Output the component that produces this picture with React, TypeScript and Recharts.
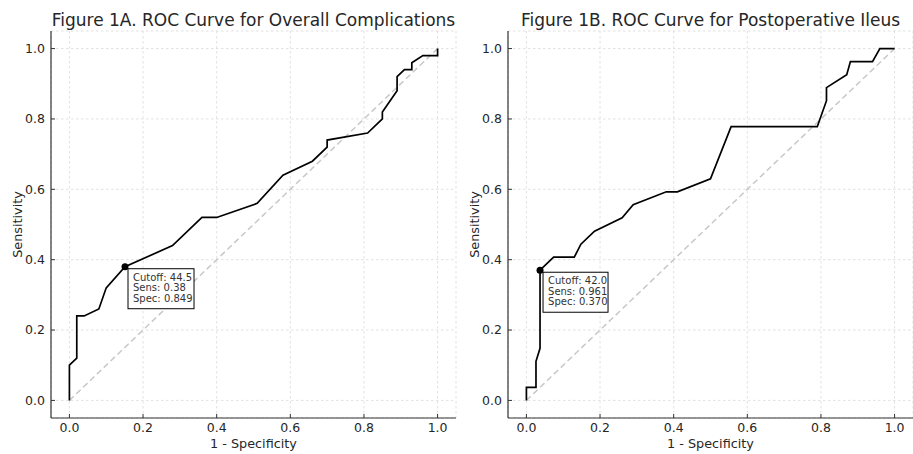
import { LineChart, Line, XAxis, YAxis, CartesianGrid, ReferenceDot } from "recharts";

// ROC points (1 - specificity, sensitivity)
const fprOverall = [0, 0, 0.02, 0.02, 0.04, 0.08, 0.1, 0.151, 0.28, 0.36, 0.4, 0.51, 0.58, 0.66, 0.7, 0.7, 0.81, 0.85, 0.85, 0.89, 0.89, 0.91, 0.93, 0.93, 0.96, 1.0, 1.0];
const tprOverall = [0, 0.1, 0.12, 0.24, 0.24, 0.26, 0.32, 0.38, 0.44, 0.52, 0.52, 0.56, 0.64, 0.68, 0.72, 0.74, 0.76, 0.8, 0.82, 0.88, 0.92, 0.94, 0.94, 0.96, 0.98, 0.98, 1.0];

const fprIleus = [0, 0, 0.026, 0.026, 0.037, 0.037, 0.074, 0.13, 0.148, 0.185, 0.26, 0.29, 0.38, 0.41, 0.5, 0.556, 0.79, 0.815, 0.815, 0.87, 0.88, 0.94, 0.96, 1.0];
const tprIleus = [0, 0.037, 0.037, 0.111, 0.148, 0.37, 0.407, 0.407, 0.444, 0.481, 0.519, 0.556, 0.593, 0.593, 0.63, 0.778, 0.778, 0.852, 0.889, 0.926, 0.963, 0.963, 1.0, 1.0];

const chanceFpr = [0, 1];
const chanceTpr = [0, 1];

const axisTicks = [0, 0.2, 0.4, 0.6, 0.8, 1.0];

const cutoffOverall = { fpr: 0.151, tpr: 0.38, lines: ["Cutoff: 44.5", "Sens: 0.38", "Spec: 0.849"] };
const cutoffIleus = { fpr: 0.037, tpr: 0.37, lines: ["Cutoff: 42.0", "Sens: 0.961", "Spec: 0.370"] };

const titleOverall = "Figure 1A. ROC Curve for Overall Complications";
const titleIleus = "Figure 1B. ROC Curve for Postoperative Ileus";

type Cutoff = { fpr: number; tpr: number; lines: string[] };

const CutoffMarker = (props: any) => {
  const { cx, cy, lines, boxWidth } = props;
  return (
    <g>
      <rect x={cx + 3} y={cy + 2} width={boxWidth} height={40} fill="#fff" stroke="#000" strokeWidth={1} />
      {lines.map((t: string, i: number) => (
        <text
          key={i}
          x={cx + 8}
          y={cy + 14 + i * 10.5}
          fill="#333"
          style={{ fontSize: "10px", fontFamily: "'DejaVu Sans', sans-serif" }}
        >
          {t}
        </text>
      ))}
      <circle cx={cx} cy={cy} r={3.5} fill="#000" />
    </g>
  );
};

type PanelProps = {
  title: string;
  fpr: number[];
  tpr: number[];
  cutoff: Cutoff;
  left: number;
  width: number;
  rightMargin: number;
  boxWidth: number;
};

const RocPanel = (props: PanelProps) => {
  const { title, fpr, tpr, cutoff, left, width, rightMargin, boxWidth } = props;
  const rocData = fpr.map((x, i) => ({ fpr: x, tpr: tpr[i] }));
  const chanceData = chanceFpr.map((x, i) => ({ fpr: x, tpr: chanceTpr[i] }));
  const axisW = 51;

  return (
    <div style={{ position: "absolute", left, top: 0, width, height: 454 }}>
      <div
        style={{
          position: "absolute",
          left: axisW,
          width: width - axisW - rightMargin,
          top: 12,
          textAlign: "center",
          fontSize: 17,
          lineHeight: "17px",
          color: "#262626",
          whiteSpace: "nowrap",
        }}
      >
        {title}
      </div>
      <LineChart width={width} height={454} margin={{ top: 31, right: rightMargin, left: 0, bottom: 0 }}>
        <CartesianGrid strokeDasharray="2.5 2.5" stroke="#d9d9d9" strokeWidth={0.8} />
        <XAxis
          dataKey="fpr"
          type="number"
          domain={[-0.05, 1.05]}
          ticks={axisTicks}
          interval={0}
          tickFormatter={(v: number) => v.toFixed(1)}
          height={36}
          tickSize={-4}
          tickMargin={9}
          axisLine={{ stroke: "#333", strokeWidth: 1.2 }}
          tickLine={{ stroke: "#333" }}
          tick={{ fontSize: 12.5, fill: "#262626" }}
          label={{ value: "1 - Specificity", position: "insideBottom", offset: 6, fontSize: 12.8, fill: "#262626" }}
        />
        <YAxis
          type="number"
          domain={[-0.05, 1.05]}
          ticks={axisTicks}
          interval={0}
          tickFormatter={(v: number) => v.toFixed(1)}
          width={axisW}
          tickSize={-4}
          tickMargin={10}
          axisLine={{ stroke: "#333", strokeWidth: 1.2 }}
          tickLine={{ stroke: "#333" }}
          tick={{ fontSize: 12.5, fill: "#262626" }}
          label={{
            value: "Sensitivity",
            angle: -90,
            position: "insideLeft",
            offset: 17,
            fontSize: 12.8,
            fill: "#262626",
            style: { textAnchor: "middle" },
          }}
        />
        <Line
          data={chanceData}
          dataKey="tpr"
          type="linear"
          stroke="#c8c8c8"
          strokeWidth={1.5}
          strokeDasharray="6 3.5"
          dot={false}
          activeDot={false}
          isAnimationActive={false}
        />
        <Line
          data={rocData}
          dataKey="tpr"
          type="linear"
          stroke="#000"
          strokeWidth={1.7}
          dot={false}
          activeDot={false}
          isAnimationActive={false}
        />
        <ReferenceDot
          x={cutoff.fpr}
          y={cutoff.tpr}
          r={3.5}
          shape={(p: any) => <CutoffMarker {...p} lines={cutoff.lines} boxWidth={boxWidth} />}
        />
      </LineChart>
    </div>
  );
};

export default function App() {
  return (
    <div
      style={{
        position: "absolute",
        left: 0,
        top: 0,
        width: 913,
        height: 454,
        background: "#fff",
        fontFamily: "'DejaVu Sans', sans-serif",
      }}
    >
      <RocPanel
        title={titleOverall}
        fpr={fprOverall}
        tpr={tprOverall}
        cutoff={cutoffOverall}
        left={0}
        width={460}
        rightMargin={4}
        boxWidth={66}
      />
      <RocPanel
        title={titleIleus}
        fpr={fprIleus}
        tpr={tprIleus}
        cutoff={cutoffIleus}
        left={457}
        width={456}
        rightMargin={0}
        boxWidth={65}
      />
    </div>
  );
}
